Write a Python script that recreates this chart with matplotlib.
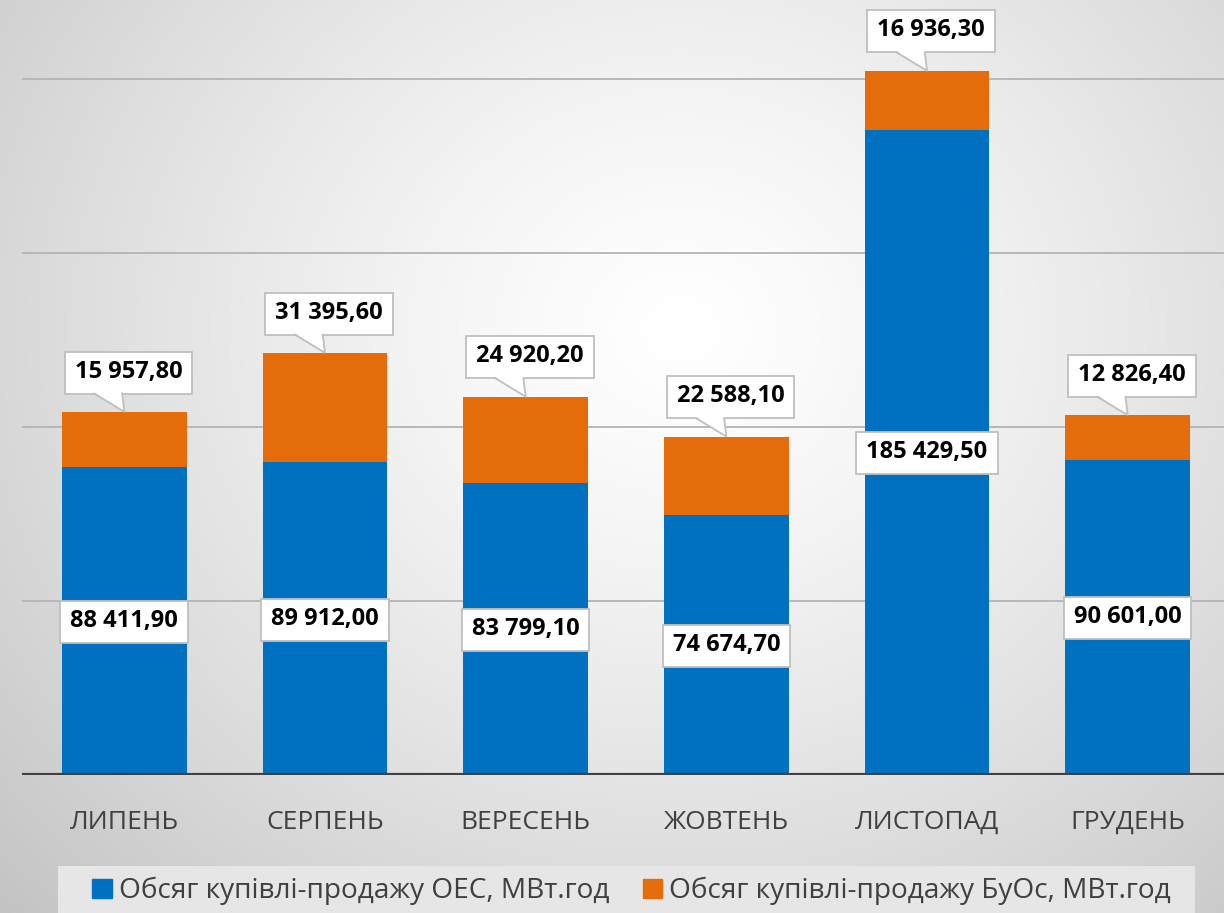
import matplotlib.pyplot as plt
from matplotlib.patches import Patch, Rectangle, Polygon
from matplotlib.lines import Line2D
from matplotlib.transforms import IdentityTransform
import numpy as np

plt.rcParams['font.family'] = ['Open Sans', 'DejaVu Sans']

months = ["ЛИПЕНЬ", "СЕРПЕНЬ", "ВЕРЕСЕНЬ", "ЖОВТЕНЬ", "ЛИСТОПАД", "ГРУДЕНЬ"]
oes = [88411.90, 89912.00, 83799.10, 74674.70, 185429.50, 90601.00]
buos = [15957.80, 31395.60, 24920.20, 22588.10, 16936.30, 12826.40]
series_names = ["Обсяг купівлі-продажу ОЕС, МВт.год",
                "Обсяг купівлі-продажу БуОс, МВт.год"]

blue = "#0070C0"
orange = "#E46C0A"
edge = "#bfbfbf"


def fmt(v):
    return "{:,.2f}".format(v).replace(",", " ").replace(".", ",")


W, H = 1224, 913
fig = plt.figure(figsize=(W / 100, H / 100), dpi=100)

# radial grey background
bg = fig.add_axes([0, 0, 1, 1], zorder=-10)
yy, xx = np.mgrid[0:H, 0:W]
r = np.sqrt(((xx - 680) / 900) ** 2 + ((yy - 330) / 800) ** 2)
shade = 1.0 - 0.22 * np.clip(r, 0, 1.3) ** 1.3
bg.imshow(np.dstack([shade] * 3), aspect="auto", extent=[0, 1, 0, 1])
bg.axis("off")

# legend panel
fig.patches.append(Rectangle((58 / W, 0), (1195 - 58) / W, (913 - 866) / H,
                             transform=fig.transFigure, fc="#e6e6e6",
                             ec="none", zorder=-5))

ax = fig.add_axes([22 / W, (H - 775) / H, 1 - 22 / W, 775 / H])
ax.set_facecolor("none")
x = np.arange(len(months))
ax.bar(x, oes, width=0.62, color=blue, zorder=2)
ax.bar(x, buos, width=0.62, bottom=oes, color=orange, zorder=2)

ax.set_xlim(-0.51, 5.48)
ax.set_ylim(0, 222700)
for g in [50000, 100000, 150000, 200000]:
    ax.axhline(g, color="#b4b4b4", lw=1.3, zorder=1)
ax.axhline(0, color="#404040", lw=3, zorder=3)

for s in ax.spines.values():
    s.set_visible(False)
ax.set_yticks([])
ax.set_xticks(x)
ax.set_xticklabels(months, fontsize=19, color="#404040")
ax.tick_params(axis="x", length=0, pad=25)

# value labels (boxes are added after the text sizes are known)
inner, outer = [], []
for i in range(len(months)):
    t = ax.text(x[i], oes[i] / 2, fmt(oes[i]), ha="center", va="center",
                fontsize=17, fontweight="bold", color="black", zorder=6,
                clip_on=False)
    inner.append(t)
    t = ax.annotate(fmt(buos[i]), xy=(x[i], oes[i] + buos[i]),
                    xytext=(3, 29), textcoords="offset points",
                    ha="center", va="center", fontsize=17, fontweight="bold",
                    color="black", zorder=6, annotation_clip=False)
    outer.append(t)

fig.canvas.draw()
rend = fig.canvas.get_renderer()
ident = IdentityTransform()


def add_box(t):
    e = t.get_window_extent(rend)
    cx = (e.x0 + e.x1) / 2
    cy = (e.y0 + e.y1) / 2 - 1
    bw, bh = e.width + 20, 42
    rect = Rectangle((cx - bw / 2, cy - bh / 2), bw, bh, transform=ident,
                     fc="white", ec=edge, lw=1.3, zorder=5, clip_on=False)
    ax.add_patch(rect)
    return cx - bw / 2, cy - bh / 2, bw


for t in inner:
    add_box(t)

for i, t in enumerate(outer):
    bx, by, bw = add_box(t)
    tx, ty = ax.transData.transform((x[i], oes[i] + buos[i]))
    xl, xr = bx + 0.23 * bw, bx + 0.45 * bw
    ax.add_patch(Polygon([(xl, by + 1.5), (xr, by + 1.5), (tx, ty)],
                         closed=True, transform=ident, fc="white",
                         ec="none", zorder=5.5, clip_on=False))
    ax.add_line(Line2D([xl, tx, xr], [by, ty, by], transform=ident,
                       color=edge, lw=1.3, zorder=5.6, clip_on=False))

handles = [Patch(color=blue), Patch(color=orange)]
leg = fig.legend(handles, series_names, loc="center", ncol=2,
                 bbox_to_anchor=(0.516, 0.024), fontsize=20.2,
                 frameon=False,
                 handlelength=0.7, handleheight=0.7, handletextpad=0.25,
                 columnspacing=1.2)
for t in leg.get_texts():
    t.set_color("#404040")

fig.savefig("out.png", dpi=100)
